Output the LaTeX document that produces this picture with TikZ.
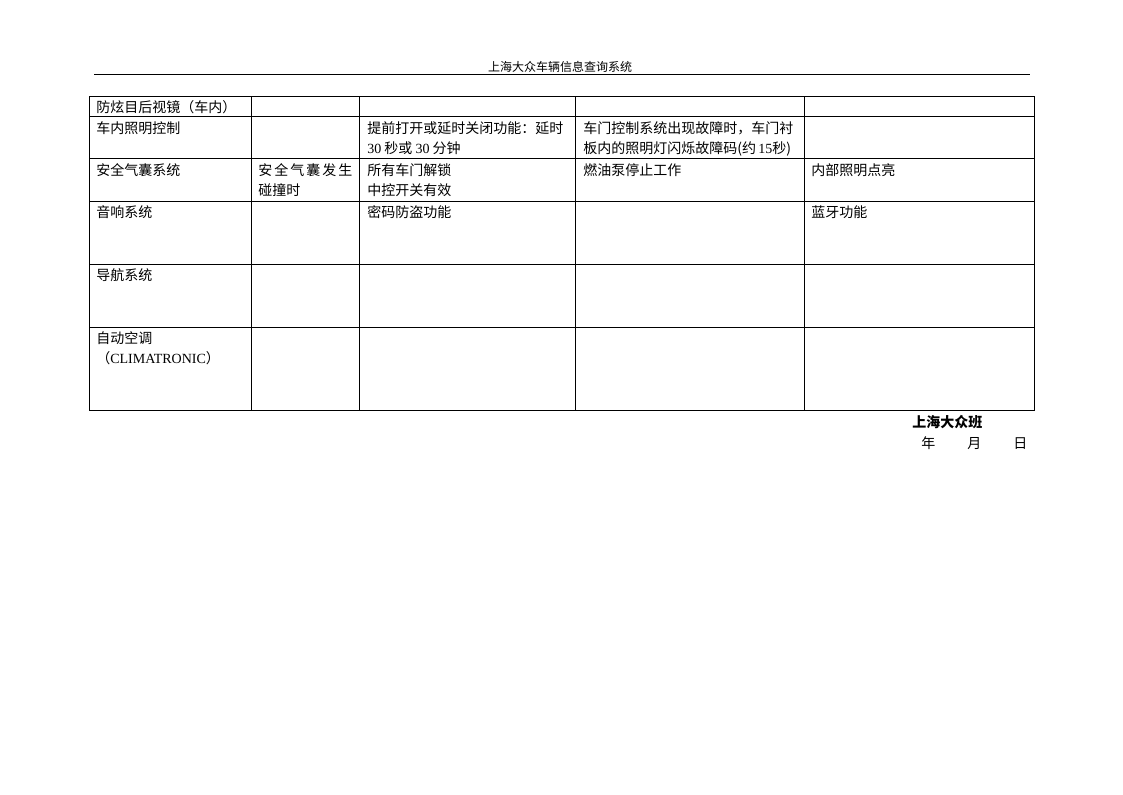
\documentclass[tikz,border=0pt]{standalone}
\usepackage{fontspec}
\setmainfont{Noto Sans CJK SC}
\newfontfamily\lat{Liberation Serif}
\begin{document}
\begin{tikzpicture}[x=0.75pt,y=-0.75pt,
  cell/.style={anchor=base west,inner sep=0pt,font=\fontsize{10.5pt}{15pt}\selectfont},
  hdr/.style={anchor=base,inner sep=0pt,font=\fontsize{9pt}{11pt}\selectfont},
  grid/.style={line width=0.65pt,black}]
\useasboundingbox (0,0) rectangle (1123,794);
\fill[white] (0,0) rectangle (1123,794);
% header
\node[hdr] (title) at (560,71) {上海大众车辆信息查询系统};
\coordinate (hl) at (94,74);
\coordinate (hr) at (1030,74);
\draw[line width=0.6pt] (hl) -- (hr);
% table grid
\draw[grid] (89,96) rectangle (1034,410);
\foreach \y in {116,158,201,264,327} \draw[grid] (89,\y) -- (1034,\y);
\foreach \x in {251,359,575,804} \draw[grid] (\x,96) -- (\x,410);
% row 1
\node[cell] (r1c1) at (96,112) {防炫目后视镜（车内）};
% row 2
\node[cell] (r2c1) at (96,133) {车内照明控制};
\node[cell] (r2c3a) at (367,133) {提前打开或延时关闭功能：延时};
\node[cell] (r2c3b) at (367,153) {{\lat 30} 秒或 {\lat 30} 分钟};
\node[cell] (r2c4a) at (583,133) {车门控制系统出现故障时，车门衬};
\node[cell] (r2c4b) at (583,153) {板内的照明灯闪烁故障码(约{\lat\,15}秒)};
% row 3
\node[cell] (r3c1) at (96,175) {安全气囊系统};
\node[cell] (r3c2a) at (258,175) {\makebox[70.5pt][s]{安\hfil 全\hfil 气\hfil 囊\hfil 发\hfil 生}};
\node[cell] (r3c2b) at (258,195) {碰撞时};
\node[cell] (r3c3a) at (367,175) {所有车门解锁};
\node[cell] (r3c3b) at (367,195) {中控开关有效};
\node[cell] (r3c4) at (583,175) {燃油泵停止工作};
\node[cell] (r3c5) at (811,175) {内部照明点亮};
% row 4
\node[cell] (r4c1) at (96,217) {音响系统};
\node[cell] (r4c3) at (367,217) {密码防盗功能};
\node[cell] (r4c5) at (811,217) {蓝牙功能};
% row 5
\node[cell] (r5c1) at (96,280) {导航系统};
% row 6
\node[cell] (r6c1a) at (96,343) {自动空调};
\node[cell] (r6c1b) at (96,363) {（{\lat CLIMATRONIC}）};
% footer
\node[cell,font=\fontsize{10.5pt}{15pt}\selectfont\bfseries] (sig) at (912,427) {上海大众班};
\node[cell] (yr) at (921,448) {年};
\node[cell] (mo) at (967,448) {月};
\node[cell] (dy) at (1013,448) {日};
\end{tikzpicture}
\end{document}
